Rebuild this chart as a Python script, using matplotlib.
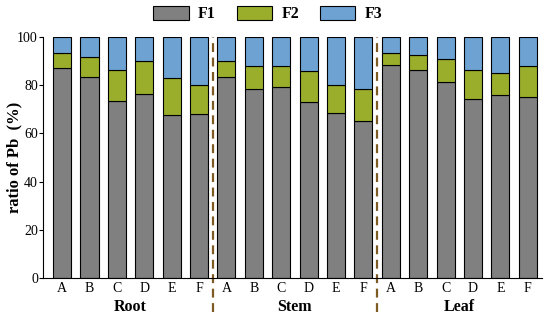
import matplotlib.pyplot as plt
import numpy as np

plt.rcParams["font.family"] = ["Liberation Serif", "DejaVu Serif"]

groups = ["Root", "Stem", "Leaf"]
samples = ["A", "B", "C", "D", "E", "F"]

# percentage of each fraction, per bar (Root A..F, Stem A..F, Leaf A..F)
f1 = [87.2, 83.2, 73.4, 76.4, 67.6, 68.0,
      83.2, 78.2, 79.0, 73.0, 68.3, 65.2,
      88.3, 86.2, 81.1, 74.1, 76.0, 75.2]
f2 = [6.1, 8.3, 12.7, 13.7, 15.3, 11.9,
      6.9, 9.8, 9.0, 12.8, 11.6, 13.0,
      5.0, 6.2, 9.8, 12.0, 8.8, 12.9]
f3 = [100 - a - b for a, b in zip(f1, f2)]

colors = {"F1": "#808080", "F2": "#9aae2c", "F3": "#6ea2d2"}

x = np.arange(len(f1))
fig = plt.figure(figsize=(5.5, 3.2), dpi=100)
ax = fig.add_axes([0.079, 0.131, 0.906, 0.754])

b1 = ax.bar(x, f1, 0.66, color=colors["F1"], edgecolor="black", linewidth=0.8, label="F1")
b2 = ax.bar(x, f2, 0.66, bottom=f1, color=colors["F2"], edgecolor="black", linewidth=0.8, label="F2")
b3 = ax.bar(x, f3, 0.66, bottom=np.add(f1, f2), color=colors["F3"], edgecolor="black",
            linewidth=0.8, label="F3")

ax.set_xlim(-0.68, 17.51)
ax.set_ylim(0, 100)
ax.set_yticks(np.arange(0, 101, 20))
ax.set_xticks(x)
ax.set_xticklabels(samples * 3)
ax.tick_params(axis="x", length=0, labelsize=10, pad=3)
ax.tick_params(axis="y", length=3, labelsize=10, pad=1)
for s in ["top", "right"]:
    ax.spines[s].set_visible(False)

ax.set_ylabel("ratio of Pb  (%)", fontsize=12, fontweight="bold")
ax.yaxis.set_label_coords(-0.043, 0.5)

# group separators
for xs in [5.5, 11.5]:
    ax.axvline(xs, ymin=-0.14, ymax=1, color="#7e5a24", linewidth=1.6,
               linestyle=(0, (4, 2.5)), clip_on=False)

# group labels
for i, g in enumerate(groups):
    ax.text(i * 6 + 2.5, -0.088, g, transform=ax.get_xaxis_transform(),
            ha="center", va="top", fontsize=11.5, fontweight="bold")

fig.legend(handles=[b1, b2, b3], loc="center", bbox_to_anchor=(0.487, 0.955), ncol=3,
           frameon=False, prop={"weight": "bold", "size": 11.5},
           handlelength=2.2, handleheight=0.9, columnspacing=1.3, handletextpad=0.6)

fig.savefig("out.png", dpi=100)
